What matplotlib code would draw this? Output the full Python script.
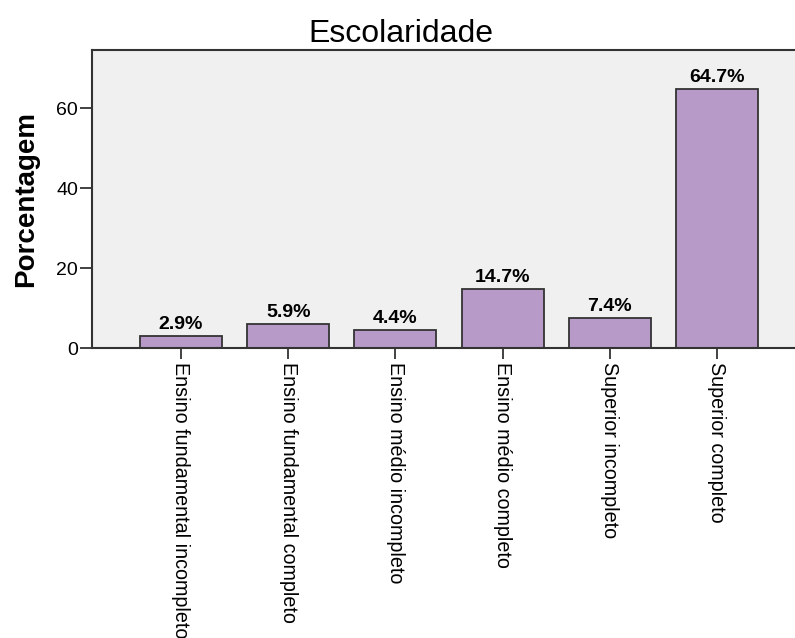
import matplotlib
matplotlib.use("Agg")
import matplotlib.pyplot as plt
from matplotlib.transforms import ScaledTranslation

categorias = [
    "Ensino fundamental incompleto",
    "Ensino fundamental completo",
    "Ensino médio incompleto",
    "Ensino médio completo",
    "Superior incompleto",
    "Superior completo",
]
porcentagens = [2.9, 5.9, 4.4, 14.7, 7.4, 64.7]
y_ticks = [0, 20, 40, 60]

plt.rcParams['font.family'] = ['Liberation Sans', 'DejaVu Sans']

fig = plt.figure(figsize=(7.95, 6.38), dpi=100)
ax = fig.add_axes([0.1157, 0.4545, 0.894, 0.467])
ax.set_facecolor('#f0f0f0')

x = list(range(len(categorias)))
ax.bar(x, porcentagens, width=0.765, color='#b89ac8',
       edgecolor='#333333', linewidth=1.3, zorder=2)

# valor de cada barra logo acima dela
for xi, v in zip(x, porcentagens):
    ax.annotate(f"{v:.1f}%", (xi, v), xytext=(0, 2.5), textcoords='offset points',
                ha='center', va='bottom', fontsize=14, fontweight='bold')

ax.set_xlim(-0.83, 5.80)
ax.set_ylim(0, 74.5)
ax.set_xticks(x)
ax.set_xticklabels(categorias, rotation=270, fontsize=14.2, va='top', ha='center')
shift = ScaledTranslation(-4 / 72, 0, fig.dpi_scale_trans)
for lbl in ax.get_xticklabels():
    lbl.set_transform(lbl.get_transform() + shift)
ax.set_yticks(y_ticks)
ax.tick_params(axis='y', labelsize=14, length=9, width=1.3, color='#333333', pad=1)
ax.tick_params(axis='x', length=8, width=1.3, color='#333333', pad=2)

for s in ax.spines.values():
    s.set_color('#333333')
    s.set_linewidth(1.5)

ax.set_ylabel("Porcentagem", fontsize=20, fontweight='bold', labelpad=12)
# o eixo passa da borda direita, então o título fica centrado na figura
ax.set_title("Escolaridade", fontsize=23, pad=6, x=0.435)

fig.savefig("out.png", dpi=100)
